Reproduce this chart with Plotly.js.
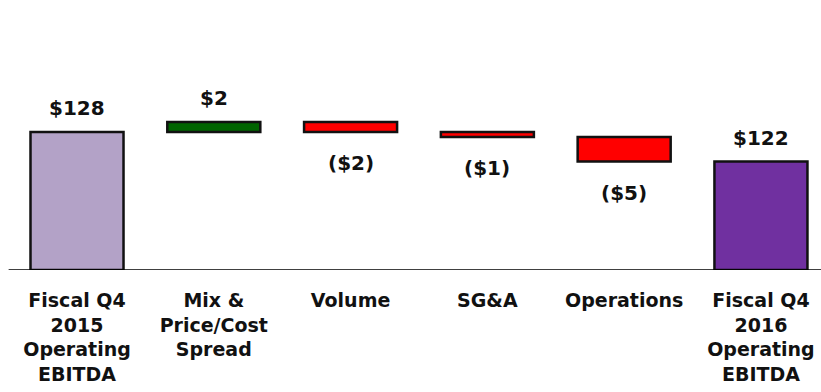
<!DOCTYPE html>
<html>
<head>
<meta charset="utf-8">
<script src="https://cdn.plot.ly/plotly-3.0.1.min.js"></script>
<style>html,body{margin:0;padding:0;background:#fff;}#chart{width:821px;height:392px;}</style>
</head>
<body>
<div id="chart"></div>
<script>
// ---- Data ----
const categories = [
  "Fiscal Q4<br>2015<br>Operating<br>EBITDA",
  "Mix &<br>Price/Cost<br>Spread",
  "Volume",
  "SG&A",
  "Operations",
  "Fiscal Q4<br>2016<br>Operating<br>EBITDA"
];
const measures = ["total", "relative", "relative", "relative", "relative", "total"];
const values = [128, 2, -2, -1, -5, 122];
const valueLabels = ["$128", "$2", "($2)", "($1)", "($5)", "$122"];
const barColors = ["#B3A2C7", "#006400", "#FF0000", "#FF0000", "#FF0000", "#7030A0"];
const axisBase = 100;

// ---- Build bases / heights ----
const bases = [], heights = [];
let running = 0;
values.forEach((v, i) => {
  if (measures[i] === "total") {
    bases.push(axisBase);
    heights.push(v - axisBase);
    running = v;
  } else {
    bases.push(running);
    heights.push(v);
    running += v;
  }
});

const xIdx = categories.map((c, i) => i);

const trace = {
  type: "bar",
  x: xIdx,
  y: heights,
  base: bases,
  width: 0.68,
  marker: { color: barColors, line: { color: "#111111", width: 2.5 } },
  hoverinfo: "skip"
};

const annotations = values.map((v, i) => {
  const top = bases[i] + Math.max(heights[i], 0);
  const bottom = bases[i] + Math.min(heights[i], 0);
  const neg = measures[i] === "relative" && v < 0;
  return {
    x: i, y: neg ? bottom : top,
    xref: "x", yref: "y",
    text: valueLabels[i],
    showarrow: false,
    yanchor: neg ? "top" : "bottom",
    yshift: neg ? -17 : 10,
    font: { family: "DejaVu Sans, sans-serif", size: 20, color: "#111111", weight: "bold" }
  };
});

const layout = {
  width: 821, height: 392,
  margin: { l: 0, r: 0, t: 0, b: 122 },
  paper_bgcolor: "#ffffff",
  plot_bgcolor: "#ffffff",
  showlegend: false,
  xaxis: {
    range: [-0.563, 5.439],
    tickmode: "array",
    tickvals: xIdx,
    ticktext: categories,
    ticks: "",
    ticklabelstandoff: 17,
    showgrid: false,
    zeroline: false,
    showline: false,
    tickfont: { family: "DejaVu Sans, sans-serif", size: 19, color: "#111111", weight: "bold" },
    fixedrange: true
  },
  yaxis: {
    range: [axisBase, axisBase + 270 / 4.93],
    visible: false,
    fixedrange: true
  },
  shapes: [{
    type: "line", xref: "x", yref: "y",
    x0: -0.5, x1: 5.6, y0: axisBase, y1: axisBase,
    line: { color: "#000000", width: 1.5 },
    layer: "above"
  }],
  annotations: annotations
};

Plotly.newPlot("chart", [trace], layout, { displayModeBar: false, staticPlot: true });
</script>
</body>
</html>
